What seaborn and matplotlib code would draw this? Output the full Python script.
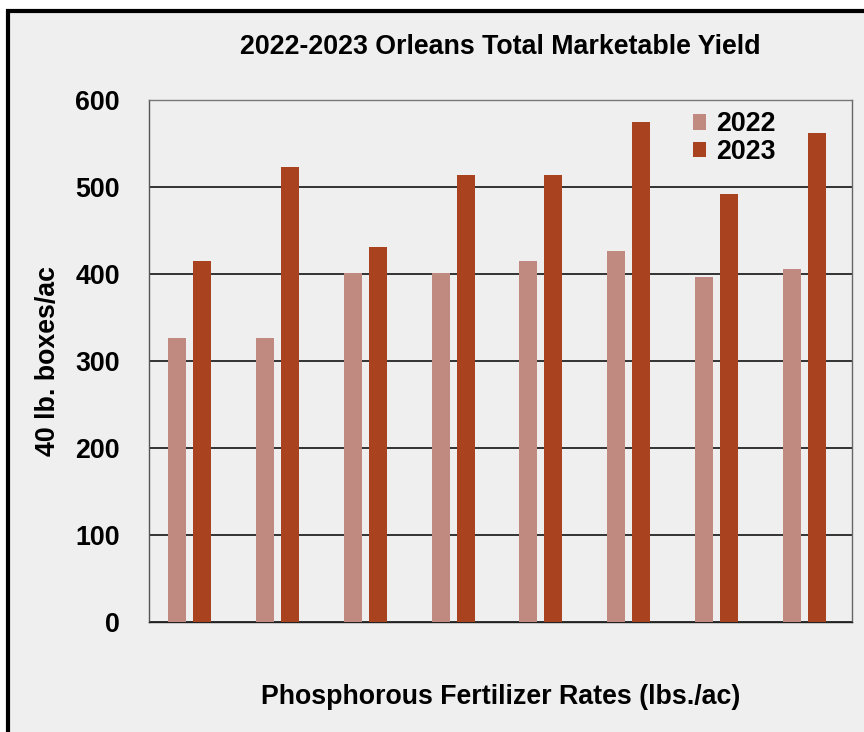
import pandas as pd
import matplotlib
matplotlib.use("Agg")
import matplotlib.pyplot as plt
import seaborn as sns
from matplotlib.patches import Rectangle

# =============================
# Data
# =============================
rates = ["R1", "R2", "R3", "R4", "R5", "R6", "R7", "R8"]
yield_2022 = [326, 326, 401, 401, 415, 426, 397, 406]
yield_2023 = [415, 523, 431, 514, 514, 575, 492, 562]
years = ["2022", "2023"]
yticks = [0, 100, 200, 300, 400, 500, 600]

df = pd.DataFrame({
    "Rate": rates * 2,
    "Year": [years[0]] * len(rates) + [years[1]] * len(rates),
    "Yield": yield_2022 + yield_2023,
})

colors = {"2022": "#C08A80", "2023": "#A9431F"}
bg = "#EFEFEF"
fs = 19.3

# =============================
# Figure
# =============================
sns.set_style("white")
plt.rcParams["font.family"] = ["Liberation Sans", "DejaVu Sans"]
plt.rcParams["text.color"] = "black"
plt.rcParams["axes.labelcolor"] = "black"
plt.rcParams["ytick.color"] = "black"

fig = plt.figure(figsize=(8.64, 7.32), dpi=100, facecolor="white")

# panel background with black frame (cut off at right/bottom)
fig.patches.append(Rectangle((8 / 864, -0.05), 1.2, 1.05 - 11 / 732,
                             transform=fig.transFigure, facecolor=bg,
                             edgecolor="black", linewidth=3, zorder=-1))

ax = fig.add_axes([149 / 864, 1 - 622 / 732, 703 / 864, 522 / 732])
ax.set_facecolor(bg)

sns.barplot(data=df, x="Rate", y="Yield", hue="Year", hue_order=years,
            palette=colors, width=0.57, gap=0.28, saturation=1,
            linewidth=0, ax=ax, zorder=3)

ax.set_ylim(0, 600)
ax.set_xlim(-0.46, len(rates) - 0.46)
ax.set_yticks(yticks)
ax.set_yticklabels([str(t) for t in yticks], fontsize=fs, fontweight="bold")
ax.set_xticks([])
ax.tick_params(axis="y", length=0, pad=21)

ax.yaxis.grid(True, color="black", linewidth=1.1)
ax.set_axisbelow(True)
for side in ["left", "bottom", "top", "right"]:
    ax.spines[side].set_visible(True)
    ax.spines[side].set_linewidth(1.0)
ax.spines["bottom"].set_color("#222222")
ax.spines["left"].set_color("#555555")
ax.spines["top"].set_color("#777777")
ax.spines["right"].set_color("#666666")

ax.set_xlabel("Phosphorous Fertilizer Rates (lbs./ac)", fontsize=fs,
              fontweight="bold")
ax.xaxis.set_label_coords(0.5, -(697 - 622) / 522)
ax.xaxis.label.set_va("center")

ax.set_ylabel("40 lb. boxes/ac", fontsize=fs, fontweight="bold")
ax.yaxis.set_label_coords(-(149 - 48) / 703, 0.5)
ax.yaxis.label.set_va("center")

ax.text(0.5, 1 + 53 / 522, "2022-2023 Orleans Total Marketable Yield",
        transform=ax.transAxes, ha="center", va="center",
        fontsize=fs, fontweight="bold", color="black")

ax.legend(loc="upper left", bbox_to_anchor=((693 - 149) / 703, 0.978),
          frameon=False, prop={"size": fs, "weight": "bold"},
          handlelength=0.5, handleheight=0.5, handletextpad=0.37,
          labelspacing=0.05, borderpad=0, borderaxespad=0, title=None)

plt.savefig("out.png", dpi=100, facecolor=fig.get_facecolor())
